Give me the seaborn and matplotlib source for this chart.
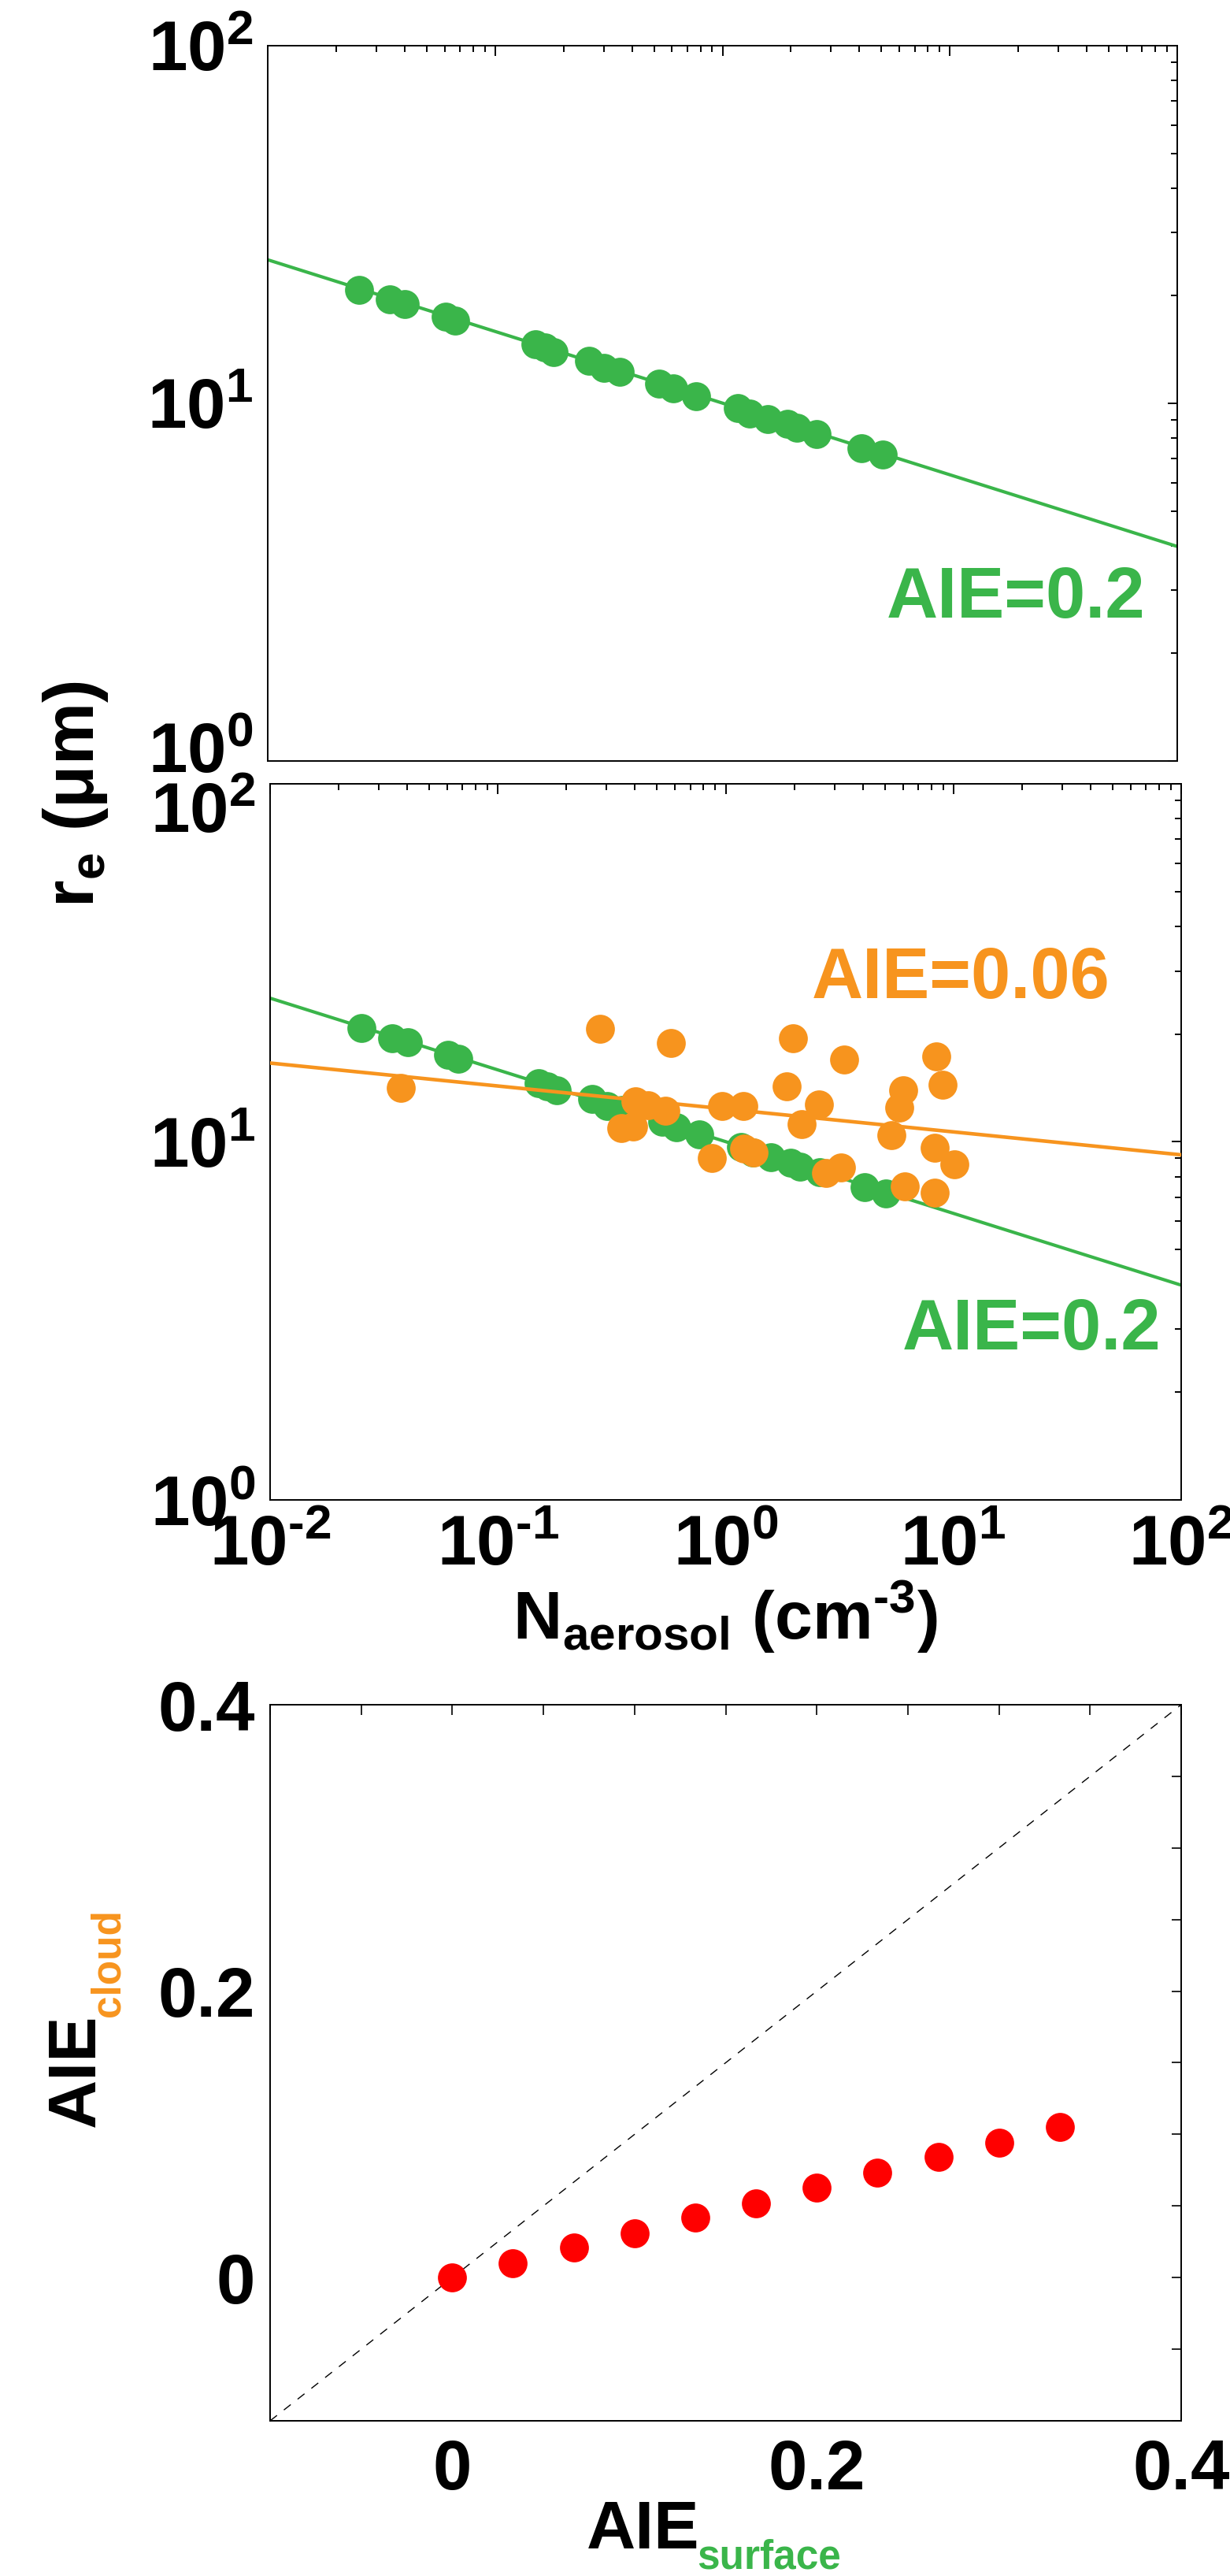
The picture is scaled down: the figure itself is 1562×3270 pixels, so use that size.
import numpy as np
import pandas as pd
import matplotlib
matplotlib.use("Agg")
import matplotlib.pyplot as plt
import seaborn as sns
from matplotlib.ticker import FixedLocator, FuncFormatter, LogLocator, NullFormatter, MultipleLocator

# ---------------- data ----------------
n_surface = [0.0252, 0.0344, 0.0402, 0.0605, 0.0669, 0.1505, 0.165, 0.1808,
             0.2594, 0.3006, 0.3524, 0.5248, 0.6074, 0.767, 1.166, 1.313,
             1.582, 1.931, 2.12, 2.594, 4.087, 5.056]
re_surface = [20.8, 19.5, 18.95, 17.5, 17.06, 14.6, 14.3, 13.93,
              13.15, 12.58, 12.27, 11.37, 11.0, 10.48, 9.69, 9.36,
              9.05, 8.76, 8.54, 8.21, 7.49, 7.18]

n_cloud = [0.0376, 0.2815, 0.5737, 0.4029, 0.4575, 0.5438, 0.349, 0.3925,
           1.980, 3.306, 8.41, 1.854, 2.569, 2.151, 6.036, 5.77, 8.94,
           0.967, 1.196, 5.343, 0.872, 1.206, 1.323, 2.766, 3.217, 6.117,
           8.297, 10.08, 8.297]
re_cloud = [14.15, 20.7, 18.89, 12.96, 12.64, 12.22, 10.91, 11.04,
            19.44, 16.98, 17.35, 14.27, 12.74, 11.22, 13.94, 12.49, 14.46,
            12.59, 12.59, 10.44, 9.01, 9.56, 9.35, 8.17, 8.50, 7.51,
            9.61, 8.64, 7.21]

fit_n = [0.01, 100.0]
fit_re_surface = [25.2, 3.98]
fit_re_cloud = [16.6, 9.2]

aie_surface = [0.0, 0.0333, 0.0667, 0.1, 0.1333, 0.1667, 0.2, 0.2333, 0.2667, 0.3, 0.3333]
aie_cloud = [0.0, 0.010, 0.021, 0.031, 0.042, 0.052, 0.063, 0.073, 0.084, 0.094, 0.105]
one_to_one = [-0.1, 0.4]

log_decades = [0.01, 0.1, 1.0, 10.0, 100.0]
re_decades = [1.0, 10.0, 100.0]
aie_labels = {0.0: "0", 0.2: "0.2", 0.4: "0.4"}

label_surface_fit = "AIE=0.2"
label_cloud_fit = "AIE=0.06"

# ---------------- style ----------------
GREEN = "#3AB54A"
ORANGE = "#F7941E"
RED = "#FF0000"

sns.set_style("white")
plt.rcParams["font.family"] = ["Liberation Sans", "DejaVu Sans"]
plt.rcParams["font.weight"] = "bold"
plt.rcParams["axes.linewidth"] = 1.4
plt.rcParams["axes.edgecolor"] = "black"
plt.rcParams["text.color"] = "black"
plt.rcParams["axes.labelcolor"] = "black"
plt.rcParams["xtick.color"] = "black"
plt.rcParams["ytick.color"] = "black"
plt.rcParams["xtick.labelcolor"] = "black"
plt.rcParams["ytick.labelcolor"] = "black"

TICK_FS = 64
LABEL_FS = 62
ANN_FS = 65
MS = 700
YPAD = 13

fig = plt.figure(figsize=(15.62, 32.70), dpi=100)
W, H = 1562.0, 3270.0


def add_ax(x0, y0, x1, y1):
    return fig.add_axes([x0 / W, 1 - y1 / H, (x1 - x0) / W, (y1 - y0) / H])


ax1 = add_ax(340, 58, 1495, 966)
ax2 = add_ax(343, 995, 1500, 1904)
ax3 = add_ax(343, 2164, 1500, 3073)


def log_label(v, p=None):
    e = int(round(np.log10(v)))
    es = ("\u2010%d" % abs(e)) if e < 0 else ("%d" % e)
    return r"$\mathdefault{10^{%s}}$" % es


def log_fmt_skip(skip):
    def f(v, p):
        if any(abs(v - s) < 1e-9 * max(1, s) for s in skip):
            return ""
        return log_label(v)
    return FuncFormatter(f)


def style_log(ax, show_x, y_skip):
    ax.set_xscale("log")
    ax.set_yscale("log")
    ax.set_xlim(1e-2, 1e2)
    ax.set_ylim(1, 100)
    ax.xaxis.set_major_locator(FixedLocator(log_decades))
    ax.yaxis.set_major_locator(FixedLocator(re_decades))
    ax.xaxis.set_minor_locator(LogLocator(base=10, subs=np.arange(2, 10)))
    ax.yaxis.set_minor_locator(LogLocator(base=10, subs=np.arange(2, 10)))
    ax.xaxis.set_minor_formatter(NullFormatter())
    ax.yaxis.set_minor_formatter(NullFormatter())
    ax.yaxis.set_major_formatter(log_fmt_skip(y_skip))
    if show_x:
        ax.xaxis.set_major_formatter(log_fmt_skip([]))
    else:
        ax.xaxis.set_major_formatter(NullFormatter())
    ax.tick_params(which="both", direction="in", top=True, right=True,
                   width=1.4, color="black")
    ax.tick_params(which="major", length=9)
    ax.tick_params(which="minor", length=6)
    ax.tick_params(axis="y", which="major", labelsize=TICK_FS, pad=YPAD)
    ax.tick_params(axis="x", which="major", labelsize=TICK_FS, pad=13,
                   labelbottom=show_x)
    ax.set_xlabel("")
    ax.set_ylabel("")
    for s in ax.spines.values():
        s.set_visible(True)


def shifted_ylabel(ax, value, dy_px):
    # tick label drawn at a shifted position so that neighbouring panels' labels do not collide
    ax.annotate(log_label(value), xy=(0, value), xycoords=("axes fraction", "data"),
                xytext=(-YPAD, dy_px * 0.72), textcoords="offset points",
                ha="right", va="center_baseline", fontsize=TICK_FS,
                fontweight="bold", annotation_clip=False)


# ---------------- panel 1 ----------------
sns.lineplot(x=fit_n, y=fit_re_surface, ax=ax1, color=GREEN, linewidth=3,
             zorder=2, estimator=None, sort=True)
sns.scatterplot(x=n_surface, y=re_surface, ax=ax1, color=GREEN, s=MS,
                linewidth=0, zorder=3)
style_log(ax1, False, [1.0])
shifted_ylabel(ax1, 1.0, 18)
ax1.text(0.965, 0.2004, label_surface_fit, transform=ax1.transAxes, ha="right",
         va="baseline", color=GREEN, fontsize=ANN_FS, fontweight="bold")

# ---------------- panel 2 ----------------
sns.lineplot(x=fit_n, y=fit_re_surface, ax=ax2, color=GREEN, linewidth=3,
             zorder=2, estimator=None, sort=True)
sns.scatterplot(x=n_surface, y=re_surface, ax=ax2, color=GREEN, s=MS,
                linewidth=0, zorder=3)
sns.lineplot(x=fit_n, y=fit_re_cloud, ax=ax2, color=ORANGE, linewidth=3.3,
             zorder=4, estimator=None, sort=True)
sns.scatterplot(x=n_cloud, y=re_cloud, ax=ax2, color=ORANGE, s=MS,
                linewidth=0, zorder=5)
style_log(ax2, True, [100.0])
shifted_ylabel(ax2, 100.0, -29)
ax2.text(0.922, 0.7008, label_cloud_fit, transform=ax2.transAxes, ha="right",
         va="baseline", color=ORANGE, fontsize=ANN_FS, fontweight="bold")
ax2.text(0.978, 0.2096, label_surface_fit, transform=ax2.transAxes, ha="right",
         va="baseline", color=GREEN, fontsize=ANN_FS, fontweight="bold")

# ---------------- panel 3 ----------------
sns.lineplot(x=one_to_one, y=one_to_one, ax=ax3, color="black", linewidth=1.0,
             linestyle=(0, (8, 8)), zorder=2, estimator=None)
sns.scatterplot(x=aie_surface, y=aie_cloud, ax=ax3, color=RED, s=MS,
                linewidth=0, zorder=3)
ax3.set_xlim(-0.1, 0.4)
ax3.set_ylim(-0.1, 0.4)
ax3.xaxis.set_major_locator(MultipleLocator(0.05))
ax3.yaxis.set_major_locator(MultipleLocator(0.05))


def aie_fmt(v, p):
    for k, lab in aie_labels.items():
        if abs(v - k) < 1e-6:
            return lab
    return ""


ax3.xaxis.set_major_formatter(FuncFormatter(aie_fmt))
ax3.yaxis.set_major_formatter(FuncFormatter(aie_fmt))
ax3.tick_params(which="major", direction="in", top=True, right=True,
                width=1.2, length=9, color="black", labelsize=TICK_FS)
ax3.tick_params(axis="x", pad=16)
ax3.tick_params(axis="y", pad=14)
ax3.set_xlabel("")
ax3.set_ylabel("")
for s in ax3.spines.values():
    s.set_visible(True)

# ---------------- axis labels ----------------
fig.text(96 / W, 1 - 1008 / H, r"r$_\mathdefault{e}$ (μm)", rotation=90,
         ha="center", va="center", fontsize=LABEL_FS + 2, fontweight="bold")

fig.text(921 / W, 1 - 2081 / H,
         "N$_\\mathdefault{aerosol}$ (cm$^\\mathdefault{\u20103}$)",
         ha="center", va="baseline", fontsize=LABEL_FS, fontweight="bold")

fig.text(745 / W, 1 - 3235 / H, "AIE", ha="left", va="baseline",
         fontsize=LABEL_FS, fontweight="bold")
fig.text(885 / W, 1 - 3260 / H, "surface", ha="left", va="baseline",
         fontsize=37, fontweight="bold", color=GREEN)

fig.text(120 / W, 1 - 2700 / H, "AIE", rotation=90, rotation_mode="anchor",
         ha="left", va="baseline", fontsize=LABEL_FS, fontweight="bold")
fig.text(152 / W, 1 - 2560 / H, "cloud", rotation=90, rotation_mode="anchor",
         ha="left", va="baseline", fontsize=37, fontweight="bold", color=ORANGE)

fig.savefig("out.png", dpi=100, facecolor="white")
